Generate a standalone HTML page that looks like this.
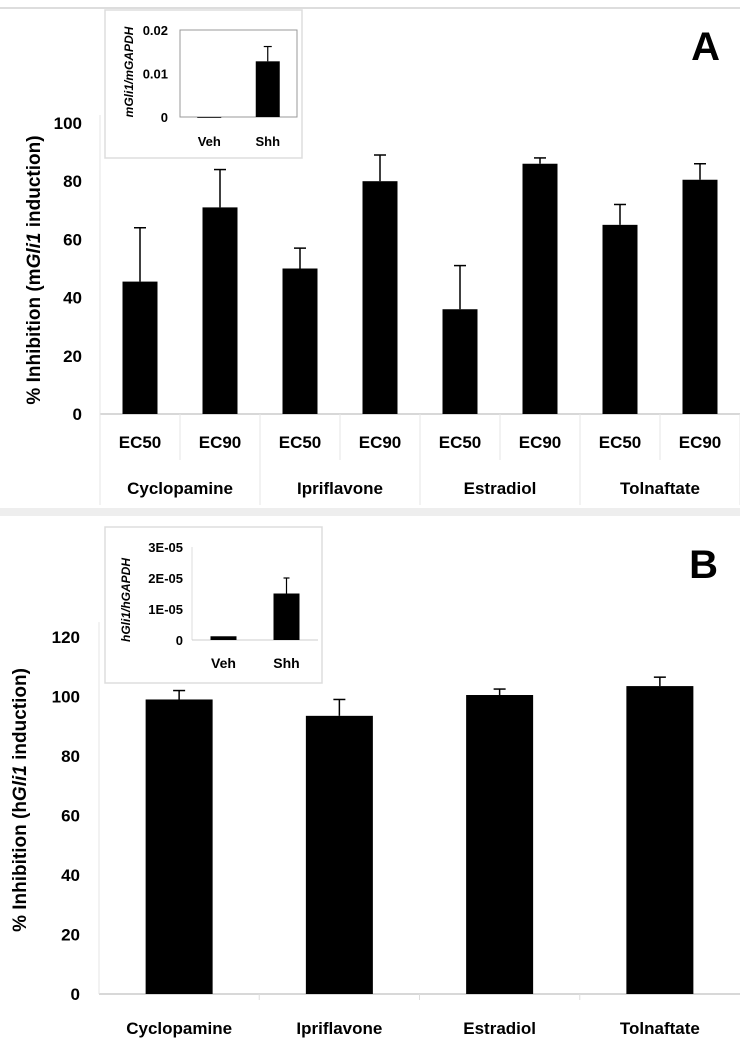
<!DOCTYPE html>
<html><head><meta charset="utf-8"><style>
body{margin:0;background:#fff;}
svg{display:block;font-family:"Liberation Sans",Arial,sans-serif;}
</style></head><body>
<svg id="c" width="740" height="1050"></svg>
<script>
const catsA=["EC50","EC90","EC50","EC90","EC50","EC90","EC50","EC90"];
const groupsA=["Cyclopamine","Ipriflavone","Estradiol","Tolnaftate"];
const valsA=[45.5,71,50,80,36,86,65,80.5];
const errA=[64,84,57,89,51,88,72,86];
const ticksA=[0,20,40,60,80,100];
const catsB=["Cyclopamine","Ipriflavone","Estradiol","Tolnaftate"];
const valsB=[99,93.5,100.5,103.5];
const errB=[102,99,102.5,106.5];
const ticksB=[0,20,40,60,80,100,120];
const insetCats=["Veh","Shh"];
const insetA=[0,0.0128];
const insetAErr=[0,0.0162];
const insetATicks=["0","0.01","0.02"];
const insetATickVals=[0,0.01,0.02];
const insetB=[1.2e-6,1.5e-5];
const insetBErr=[1.2e-6,2.0e-5];
const insetBTicks=["0","1E-05","2E-05","3E-05"];
const insetBTickVals=[0,1e-5,2e-5,3e-5];

const svg=document.getElementById('c');
const NS="http://www.w3.org/2000/svg";
function mk(t,a,txt){const e=document.createElementNS(NS,t);for(const k in a)e.setAttribute(k,a[k]);if(txt!==undefined)e.textContent=txt;svg.appendChild(e);return e;}

let e;
e=mk('line',{x1:0,y1:8,x2:740,y2:8,stroke:'#ddd','stroke-width':2});

e=mk('rect',{x:0,y:508,width:740,height:8,fill:'#eee'});


// ---------- Panel A ----------
const aL=100,aR=740,aY0=414,aPx=2.91;
const ya=v=>aY0-v*aPx;
const cwA=(aR-aL)/catsA.length;
const xa=i=>aL+cwA*(i+0.5);
e=mk('line',{x1:aL,y1:aY0,x2:aR,y2:aY0,stroke:'#ccc','stroke-width':1.5});

e=mk('line',{x1:aL,y1:ya(100)-8,x2:aL,y2:aY0,stroke:'#e4e4e4','stroke-width':1});

ticksA.forEach(t=>{
  e=mk('text',{x:82,y:ya(t)+6,'text-anchor':'end','font-size':17,'font-weight':'bold'},t);
  
});
for(let i=0;i<=catsA.length;i++){
  const x=aL+cwA*i;
  e=mk('line',{x1:x,y1:aY0,x2:x,y2:i%2==0?505:460,stroke:'#e6e6e6','stroke-width':1});
  
}
valsA.forEach((v,i)=>{
  const cx=xa(i);
  e=mk('line',{x1:cx,y1:ya(errA[i]),x2:cx,y2:ya(v),stroke:'#000','stroke-width':1.5});
  
  e=mk('line',{x1:cx-6,y1:ya(errA[i]),x2:cx+6,y2:ya(errA[i]),stroke:'#000','stroke-width':1.5});
  
  e=mk('rect',{x:cx-17.5,y:ya(v),width:35,height:v*aPx,fill:'#000'});
  
  e=mk('text',{x:cx,y:448,'text-anchor':'middle','font-size':17,'font-weight':'bold'},catsA[i]);
  
});
groupsA.forEach((g,i)=>{
  e=mk('text',{x:aL+cwA*(2*i+1),y:494,'text-anchor':'middle','font-size':17,'font-weight':'bold'},g);
  
});
e=mk('text',{x:0,y:0,transform:'translate(40,270) rotate(-90)','text-anchor':'middle','font-size':19,'font-weight':'bold'});
e.innerHTML='% Inhibition (m<tspan font-style="italic">Gli1</tspan> induction)';

e=mk('text',{x:720,y:60,'text-anchor':'end','font-size':40,'font-weight':'bold'},'A');


// inset A
e=mk('rect',{x:105,y:10,width:197,height:148,fill:'#fff',stroke:'#ddd','stroke-width':1.5});

const iaL=180,iaR=297,iaY0=117,iaTop=30;
const yia=v=>iaY0-v/0.02*(iaY0-iaTop);
e=mk('rect',{x:iaL,y:iaTop,width:iaR-iaL,height:iaY0-iaTop,fill:'none',stroke:'#999','stroke-width':1});

insetATickVals.forEach((t,i)=>{
  e=mk('text',{x:168,y:yia(t)+5,'text-anchor':'end','font-size':13,'font-weight':'bold'},insetATicks[i]);
  
});
const icwA=(iaR-iaL)/2;
insetA.forEach((v,i)=>{
  const cx=iaL+icwA*(i+0.5);
  if(insetAErr[i]>v){
    e=mk('line',{x1:cx,y1:yia(insetAErr[i]),x2:cx,y2:yia(v),stroke:'#000','stroke-width':1.2});
    
    e=mk('line',{x1:cx-4,y1:yia(insetAErr[i]),x2:cx+4,y2:yia(insetAErr[i]),stroke:'#000','stroke-width':1.2});
    
  }
  e=mk('rect',{x:cx-12,y:yia(v),width:24,height:Math.max(iaY0-yia(v),0.8),fill:'#000'});
  
  e=mk('text',{x:cx,y:146,'text-anchor':'middle','font-size':13,'font-weight':'bold'},insetCats[i]);
  
});
e=mk('text',{x:0,y:0,transform:'translate(133,72) rotate(-90)','text-anchor':'middle','font-size':12,'font-weight':'bold','font-style':'italic'},'mGli1/mGAPDH');


// ---------- Panel B ----------
const bL=99,bR=740,bY0=994,bPx=2.975;
const yb=v=>bY0-v*bPx;
const cwB=(bR-bL)/catsB.length;
e=mk('line',{x1:bL,y1:bY0,x2:bR,y2:bY0,stroke:'#ccc','stroke-width':1.5});

e=mk('line',{x1:bL,y1:yb(125),x2:bL,y2:bY0,stroke:'#e4e4e4','stroke-width':1});

ticksB.forEach(t=>{
  e=mk('text',{x:80,y:yb(t)+6,'text-anchor':'end','font-size':17,'font-weight':'bold'},t);
  
});
for(let i=1;i<catsB.length;i++){
  const x=bL+cwB*i;
  e=mk('line',{x1:x,y1:bY0,x2:x,y2:bY0+6,stroke:'#ddd','stroke-width':1});
  
}
valsB.forEach((v,i)=>{
  const cx=bL+cwB*(i+0.5);
  e=mk('line',{x1:cx,y1:yb(errB[i]),x2:cx,y2:yb(v),stroke:'#000','stroke-width':1.5});
  
  e=mk('line',{x1:cx-6,y1:yb(errB[i]),x2:cx+6,y2:yb(errB[i]),stroke:'#000','stroke-width':1.5});
  
  e=mk('rect',{x:cx-33.5,y:yb(v),width:67,height:v*bPx,fill:'#000'});
  
  e=mk('text',{x:cx,y:1034,'text-anchor':'middle','font-size':17,'font-weight':'bold'},catsB[i]);
  
});
e=mk('text',{x:0,y:0,transform:'translate(26,800) rotate(-90)','text-anchor':'middle','font-size':19,'font-weight':'bold'});
e.innerHTML='% Inhibition (h<tspan font-style="italic">Gli1</tspan> induction)';

e=mk('text',{x:718,y:578,'text-anchor':'end','font-size':40,'font-weight':'bold'},'B');


// inset B
e=mk('rect',{x:105,y:527,width:217,height:156,fill:'#fff',stroke:'#ddd','stroke-width':1.5});

const ibL=192,ibR=318,ibY0=640,ibTop=547;
const yib=v=>ibY0-v/3e-5*(ibY0-ibTop);
e=mk('line',{x1:ibL,y1:ibTop,x2:ibL,y2:ibY0,stroke:'#ddd','stroke-width':1});

e=mk('line',{x1:ibL,y1:ibY0,x2:ibR,y2:ibY0,stroke:'#ccc','stroke-width':1});

insetBTickVals.forEach((t,i)=>{
  e=mk('text',{x:183,y:yib(t)+5,'text-anchor':'end','font-size':13,'font-weight':'bold'},insetBTicks[i]);
  
});
const icwB=(ibR-ibL)/2;
insetB.forEach((v,i)=>{
  const cx=ibL+icwB*(i+0.5);
  if(insetBErr[i]>v){
    e=mk('line',{x1:cx,y1:yib(insetBErr[i]),x2:cx,y2:yib(v),stroke:'#000','stroke-width':1.2});
    
    e=mk('line',{x1:cx-3,y1:yib(insetBErr[i]),x2:cx+3,y2:yib(insetBErr[i]),stroke:'#000','stroke-width':1.2});
    
  }
  e=mk('rect',{x:cx-13,y:yib(v),width:26,height:ibY0-yib(v),fill:'#000'});
  
  e=mk('text',{x:cx,y:668,'text-anchor':'middle','font-size':14,'font-weight':'bold'},insetCats[i]);
  
});
e=mk('text',{x:0,y:0,transform:'translate(130,600) rotate(-90)','text-anchor':'middle','font-size':12,'font-weight':'bold','font-style':'italic'},'hGli1/hGAPDH');

</script>
</body></html>
